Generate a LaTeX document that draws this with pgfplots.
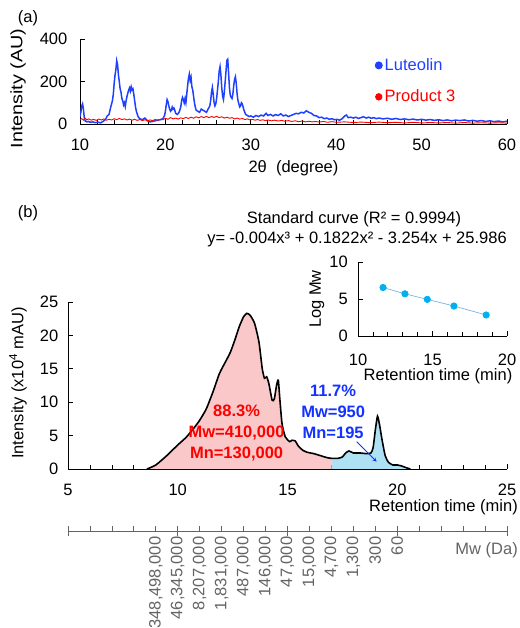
\documentclass[border=0pt]{standalone}
\usepackage{fontspec}
\setmainfont{Liberation Sans}
\usepackage{graphicx}
\usepackage{pgfplots}
\pgfplotsset{compat=1.18}

\definecolor{xblue}{RGB}{32,64,255}
\definecolor{xred}{RGB}{255,0,0}
\definecolor{pinkfill}{RGB}{250,200,200}
\definecolor{bluefill}{RGB}{175,225,245}
\definecolor{mkblue}{RGB}{0,176,240}
\definecolor{lnblue}{RGB}{120,180,230}
\definecolor{txtblue}{RGB}{20,50,255}
\definecolor{axgray}{RGB}{100,100,100}

\pgfplotsset{
  base/.style={
    scale only axis,
    axis x line*=bottom, axis y line*=left,
    tick align=inside,
    axis line style={black, line width=0.8pt},
    tick style={black, line width=0.8pt},
    major tick length=5pt, minor tick length=4pt,
    /pgf/number format/assume math mode=true,
    /pgf/number format/1000 sep={},
  },
}

\begin{document}
\fontsize{16.5}{19.8}\selectfont
\begin{tikzpicture}
\path[use as bounding box] (0,0) rectangle (519pt,628pt);

% ---- (a) XRD
\begin{axis}[base,
  at={(80pt,504pt)}, anchor=south west,
  width=427pt, height=85pt,
  xmin=10, xmax=60, ymin=0, ymax=400,
  xtick={10,20,...,60}, minor x tick num=4,
  ytick={0,200,400},
  xticklabel style={yshift=-9.5pt},
  yticklabel style={xshift=-7pt},
  xlabel={2θ\ \ (degree)},
  xlabel style={at={(axis description cs:0.5,-0.518)}, anchor=center},
  ylabel={\scalebox{1.2}[1]{Intensity (AU)}},
  ylabel style={at={(axis description cs:-0.145,0.418)}, anchor=center},
  legend style={draw=none, fill=none, at={(axis description cs:0.69,0.80)}, anchor=north west,
    row sep=13pt, inner sep=0pt, cells={anchor=west}},
  legend image code/.code={\fill[#1] (2pt,0) circle (3.2pt);},
]
\addplot[color=xblue, line width=1.5pt] coordinates {
(10.0,35) (10.1,55) (10.2,85) (10.3,95) (10.4,70) (10.5,30) (10.6,15) (10.8,10) (11.0,12) (11.2,8)
(11.5,10) (11.8,6) (12.1,9) (12.4,5) (12.7,12) (13.0,22) (13.2,38) (13.4,45) (13.6,80) (13.8,110)
(13.9,140) (14.0,190) (14.1,230) (14.2,255) (14.3,298) (14.4,280) (14.5,230) (14.6,200) (14.7,165) (14.8,150)
(14.9,120) (15.0,110) (15.1,90) (15.2,100) (15.3,82) (15.4,110) (15.5,130) (15.6,145) (15.7,160) (15.8,170)
(15.9,155) (16.0,175) (16.1,160) (16.2,165) (16.3,140) (16.4,110) (16.5,80) (16.6,60) (16.8,35) (17.0,25)
(17.3,20) (17.6,28) (17.9,15) (18.2,10) (18.5,12) (18.8,15) (19.1,18) (19.4,20) (19.7,25) (19.9,40)
(20.0,60) (20.1,90) (20.2,115) (20.3,105) (20.4,85) (20.5,70) (20.6,60) (20.7,65) (20.8,80) (20.9,70)
(21.0,75) (21.1,65) (21.2,50) (21.4,45) (21.6,55) (21.8,80) (21.9,110) (22.0,125) (22.1,115) (22.2,100)
(22.3,120) (22.4,100) (22.5,140) (22.6,180) (22.7,215) (22.8,235) (22.9,205) (23.0,220) (23.1,175) (23.2,160)
(23.3,130) (23.4,100) (23.5,80) (23.6,65) (23.8,60) (24.0,55) (24.2,70) (24.4,65) (24.6,60) (24.8,55)
(25.0,70) (25.2,85) (25.3,110) (25.4,150) (25.5,172) (25.6,140) (25.7,100) (25.8,85) (25.9,95) (26.0,120)
(26.1,160) (26.2,200) (26.3,250) (26.4,270) (26.5,230) (26.6,170) (26.7,130) (26.8,115) (26.9,150) (27.0,200)
(27.1,250) (27.2,300) (27.3,305) (27.4,240) (27.5,170) (27.6,135) (27.7,125) (27.8,120) (27.9,140) (28.0,180)
(28.1,210) (28.2,222) (28.3,190) (28.4,140) (28.5,110) (28.6,95) (28.7,80) (28.8,85) (28.9,100) (29.0,95)
(29.1,80) (29.2,65) (29.4,45) (29.6,40) (29.8,35) (30.0,38) (30.3,32) (30.6,40) (30.9,35) (31.2,42)
(31.5,38) (31.8,50) (32.0,40) (32.3,45) (32.6,38) (32.9,44) (33.2,40) (33.5,48) (33.8,38) (34.1,42)
(34.4,35) (34.7,40) (35.0,45) (35.3,50) (35.6,48) (35.9,55) (36.2,52) (36.5,62) (36.8,55) (37.1,50)
(37.4,40) (37.7,38) (38.0,30) (38.3,32) (38.6,25) (38.9,28) (39.2,22) (39.5,25) (39.8,20) (40.1,22)
(40.4,18) (40.7,25) (41.0,38) (41.2,42) (41.4,30) (41.7,32) (42.0,28) (42.3,32) (42.6,26) (42.9,30)
(43.2,34) (43.5,28) (43.8,32) (44.1,27) (44.4,30) (44.7,25) (45.0,28) (45.5,24) (46,27) (46.5,22)
(47,26) (47.5,21) (48,24) (48.5,20) (49,23) (49.5,19) (50,22) (50.5,18) (51,21) (51.5,17)
(52,20) (52.5,16) (53,19) (53.5,15) (54,18) (54.5,16) (55,19) (55.5,14) (56,17) (56.5,13)
(57,16) (57.5,12) (58,15) (58.5,11) (59,14) (59.5,10) (60,13)
};
\addlegendentry{\textcolor{xblue}{Luteolin}}
\addplot[color=xred, line width=0.9pt] coordinates {
(10.0,20) (10.2,25) (10.4,18) (10.6,28) (10.8,20) (11.0,24) (11.3,18) (11.6,22) (11.9,17) (12.2,23)
(12.5,19) (12.8,24) (13.1,18) (13.4,22) (13.7,19) (14.0,25) (14.3,20) (14.6,26) (14.9,21) (15.2,24)
(15.5,19) (15.8,23) (16.1,18) (16.4,22) (16.7,17) (17.0,21) (17.3,16) (17.6,20) (17.9,15) (18.2,19)
(18.5,16) (18.8,21) (19.1,18) (19.4,22) (19.7,20) (20.0,27) (20.3,22) (20.6,30) (20.9,24) (21.2,28)
(21.5,23) (21.8,29) (22.1,25) (22.4,31) (22.7,26) (23.0,32) (23.3,27) (23.6,34) (23.9,29) (24.2,35)
(24.5,30) (24.8,36) (25.1,30) (25.4,35) (25.7,31) (26.0,36) (26.3,30) (26.6,34) (26.9,28) (27.2,32)
(27.5,27) (27.8,30) (28.1,24) (28.4,28) (28.7,23) (29.0,26) (29.3,21) (29.6,24) (29.9,19) (30.2,22)
(30.5,18) (30.8,21) (31.1,17) (31.4,20) (31.7,16) (32.0,19) (32.4,15) (32.8,18) (33.2,14) (33.6,17)
(34.0,13) (34.4,16) (34.8,12) (35.2,15) (35.6,11) (36.0,14) (36.4,10) (36.8,13) (37.2,10) (37.6,12)
(38.0,9) (38.5,12) (39,8) (39.5,11) (40,8) (41,10) (42,7) (43,9) (44,6) (45,9)
(46,6) (47,8) (48,5) (49,8) (50,5) (51,7) (52,5) (53,7) (54,4) (55,7)
(56,4) (57,6) (58,4) (59,6) (60,4)
};
\addlegendentry{\textcolor{xred}{Product 3}}
\end{axis}

\node at (28pt,610pt) {(a)};
\node at (28pt,415pt) {(b)};
\node at (354pt,409pt) {Standard curve (R² = 0.9994)};
\node at (357pt,389pt) {y= -0.004x³ + 0.1822x² - 3.254x + 25.986};

% ---- (b) GPC
\begin{axis}[base,
  at={(68pt,159pt)}, anchor=south west,
  width=439pt, height=167pt,
  xmin=5, xmax=25, ymin=0, ymax=25,
  xtick={5,10,...,25}, minor x tick num=4,
  ytick={0,5,...,25},
  xticklabel style={yshift=-9.5pt},
  yticklabel style={xshift=-4pt},
  xlabel={Retention time (min)},
  xlabel style={at={(axis description cs:1.025,-0.226)}, anchor=east, inner sep=0pt},
  ylabel={Intensity (x10\textsuperscript{4} mAU)},
  ylabel style={at={(axis description cs:-0.114,0.515)}, anchor=center},
]
\addplot[draw=none, fill=pinkfill, smooth, tension=0.35] coordinates {
(8.6,0) (9.0,0.6) (9.5,2.0) (10.0,3.6) (10.4,4.8) (10.8,6.4) (11.0,7.3) (11.3,9.0) (11.6,11.5) (11.9,14.3)
(12.2,16.2) (12.4,17.5) (12.6,19.3) (12.8,21.3) (13.0,22.8) (13.15,23.3) (13.3,23.0) (13.5,21.8) (13.7,19.0) (13.85,15.0)
(13.95,13.6) (14.05,13.8) (14.15,12.8) (14.3,10.3) (14.4,10.5) (14.5,12.5) (14.58,13.3) (14.65,10.5) (14.75,6.8) (14.9,4.8)
(15.1,4.1) (15.2,4.3) (15.35,4.2) (15.5,3.4) (15.7,2.8) (15.9,2.5) (16.2,2.3) (16.5,2.0) (16.8,1.7) (17.0,1.6)
} \closedcycle;
\addplot[draw=none, fill=bluefill, smooth, tension=0.35] coordinates {
(17.0,1.6) (17.3,1.6) (17.5,1.8) (17.65,2.4) (17.8,2.7) (18.0,2.4) (18.3,2.4) (18.6,2.3) (18.8,2.4) (18.9,3.2)
(19.0,5.8) (19.1,7.9) (19.2,6.5) (19.3,4.5) (19.45,2.0) (19.6,1.0) (19.8,0.6) (20.0,0.6) (20.2,0.45) (20.4,0.2)
(20.6,0)
} \closedcycle;
\addplot[black, line width=1.6pt, smooth, tension=0.35] coordinates {
(8.6,0) (9.0,0.6) (9.5,2.0) (10.0,3.6) (10.4,4.8) (10.8,6.4) (11.0,7.3) (11.3,9.0) (11.6,11.5) (11.9,14.3)
(12.2,16.2) (12.4,17.5) (12.6,19.3) (12.8,21.3) (13.0,22.8) (13.15,23.3) (13.3,23.0) (13.5,21.8) (13.7,19.0) (13.85,15.0)
(13.95,13.6) (14.05,13.8) (14.15,12.8) (14.3,10.3) (14.4,10.5) (14.5,12.5) (14.58,13.3) (14.65,10.5) (14.75,6.8) (14.9,4.8)
(15.1,4.1) (15.2,4.3) (15.35,4.2) (15.5,3.4) (15.7,2.8) (15.9,2.5) (16.2,2.3) (16.5,2.0) (16.8,1.7) (17.0,1.6)
(17.3,1.6) (17.5,1.8) (17.65,2.4) (17.8,2.7) (18.0,2.4) (18.3,2.4) (18.6,2.3) (18.8,2.4) (18.9,3.2)
(19.0,5.8) (19.1,7.9) (19.2,6.5) (19.3,4.5) (19.45,2.0) (19.6,1.0) (19.8,0.6) (20.0,0.6) (20.2,0.45) (20.4,0.2)
(20.6,0)
};
\node[xred, font=\bfseries, align=center] at (axis cs:12.68,5.4)
  {88.3\%\\[1pt]Mw=410,000\\[1pt]Mn=130,000};
\node[txtblue, font=\bfseries, align=center] at (axis cs:17.08,8.55)
  {11.7\%\\[1pt]Mw=950\\[1pt]Mn=195};
\draw[-stealth, txtblue, line width=0.8pt] (axis cs:18.15,4.1) -- (axis cs:19.06,1.1);
\end{axis}

% ---- inset standard curve
\begin{axis}[base,
  at={(358pt,292pt)}, anchor=south west,
  width=149pt, height=74pt,
  xmin=10, xmax=20, ymin=0, ymax=10,
  xtick={10,15,20}, minor x tick num=4,
  ytick={0,5,10},
  xticklabel style={inner sep=0pt, yshift=-18pt},
  yticklabel style={xshift=-4.5pt},
  xlabel={Retention time (min)},
  xlabel style={at={(axis description cs:0.537,-0.545)}, anchor=center, inner sep=0pt},
  ylabel={Log Mw},
  ylabel style={at={(axis description cs:-0.275,0.5)}, anchor=center},
]
\addplot[color=lnblue, line width=0.7pt, mark=*, mark size=3.2pt,
  mark options={fill=mkblue, draw=mkblue}] coordinates {
(11.68,6.55) (13.15,5.70) (14.65,4.95) (16.44,4.05) (18.60,2.84)
};
\end{axis}

% ---- Mw axis
\begin{axis}[
  scale only axis,
  at={(68pt,97pt)}, anchor=south west,
  width=439pt, height=10pt,
  xmin=5, xmax=25, ymin=0, ymax=1,
  hide y axis, axis x line*=bottom,
  x axis line style={axgray, line width=0.8pt},
  tick style={axgray, line width=0.8pt},
  xtick={9,...,20},
  xticklabels={{348,498,000},{46,345,000},{8,207,000},{1,831,000},{487,000},{146,000},{47,000},{15,000},{4,700},{1,300},{300},{60}},
  major tick length=0pt,
  minor xtick={5,...,25}, minor tick length=5pt, tick align=inside,
  extra x ticks={5,10,...,25}, extra x tick labels={},
  extra x tick style={major tick length=10pt, tick align=center},
  xticklabel style={rotate=90, anchor=east, axgray, yshift=0pt},
]
\addplot[draw=none] coordinates {(5,0) (25,0)};
\end{axis}
\node[anchor=east, axgray, inner sep=0pt] at (518pt,78pt) {Mw (Da)};
\end{tikzpicture}
\end{document}
